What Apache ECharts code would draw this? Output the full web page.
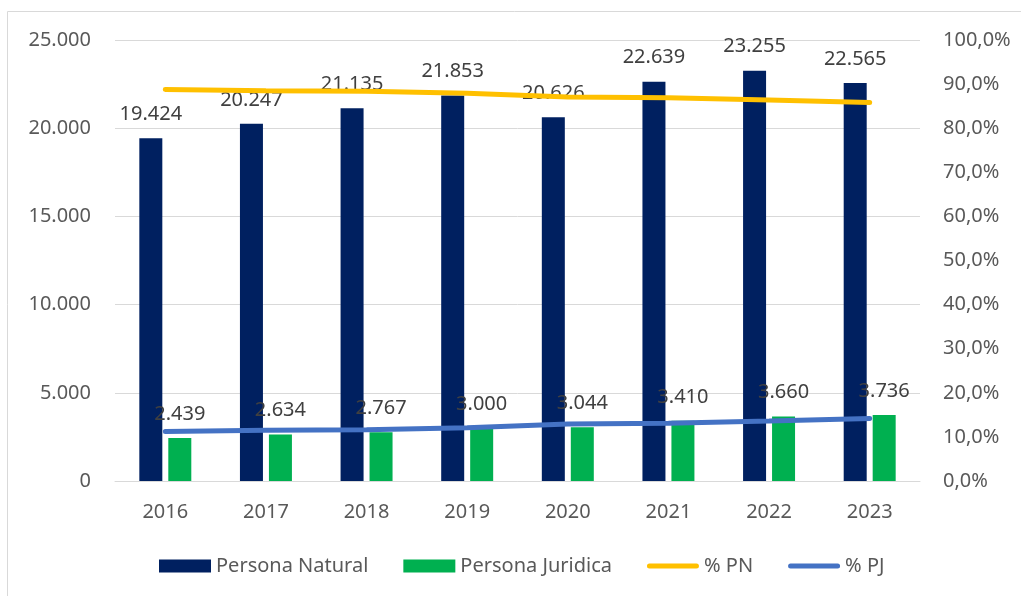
<!DOCTYPE html>
<html>
  <head>
    <meta charset="UTF-8" />
    <title>Persona Natural / Persona Juridica</title>
    <style>
      html, body { margin: 0; padding: 0; background: #fff; overflow: hidden; }
      #chart { width: 1021px; height: 596px; }
    </style>
    <script src="https://cdn.jsdelivr.net/npm/echarts@6/dist/echarts.min.js"></script>
  </head>
  <body>
    <div id="chart"></div>
    <script>
      var years = ["2016", "2017", "2018", "2019", "2020", "2021", "2022", "2023"];
      var personaNatural = [19424, 20247, 21135, 21853, 20626, 22639, 23255, 22565];
      var personaJuridica = [2439, 2634, 2767, 3000, 3044, 3410, 3660, 3736];
      var pctPN = [88.8, 88.5, 88.4, 87.9, 87.1, 86.9, 86.4, 85.8];
      var pctPJ = [11.2, 11.5, 11.6, 12.1, 12.9, 13.1, 13.6, 14.2];

      var font = "'Noto Sans', sans-serif";
      var textColor = "#595959";
      // rounded line used as legend icon for the two % series
      var lineIcon = "path://M2.5,0 L49.5,0 A2.5,2.5 0 0 1 49.5,5 L2.5,5 A2.5,2.5 0 0 1 2.5,0 Z";

      function miles(v) {
        return String(v).replace(/\B(?=(\d{3})+(?!\d))/g, ".");
      }

      var myChart = echarts.init(document.getElementById("chart"));

      var barLabel = {
        show: true,
        position: "top",
        distance: 14,
        color: "#404040",
        fontFamily: font,
        fontSize: 20,
        formatter: function (p) { return miles(p.value); }
      };

      var option = {
        animation: false,
        textStyle: { fontFamily: font },
        graphic: [
          {
            type: "rect",
            shape: { x: 7.5, y: 11.5, width: 1100, height: 700 },
            style: { fill: "none", stroke: "#d9d9d9", lineWidth: 1 },
            silent: true
          }
        ],
        grid: { left: 115, right: 101, top: 40, bottom: 115 },
        legend: {
          left: 154,
          top: 551,
          itemWidth: 52,
          itemHeight: 13,
          itemGap: 35,
          textStyle: { color: textColor, fontSize: 20, fontFamily: font },
          data: [
            { name: "Persona Natural", icon: "rect" },
            { name: "Persona Juridica", icon: "rect" },
            { name: "% PN", icon: lineIcon },
            { name: "% PJ", icon: lineIcon }
          ]
        },
        xAxis: {
          type: "category",
          data: years,
          axisLine: { lineStyle: { color: "#d9d9d9", width: 1 } },
          axisTick: { show: false },
          axisLabel: { color: textColor, fontSize: 20, margin: 21 }
        },
        yAxis: [
          {
            type: "value",
            min: 0,
            max: 25000,
            interval: 5000,
            axisLine: { show: false },
            axisTick: { show: false },
            splitLine: { lineStyle: { color: "#d9d9d9", width: 1 } },
            axisLabel: {
              color: textColor,
              fontSize: 20,
              margin: 24,
              formatter: function (v) { return miles(v); }
            }
          },
          {
            type: "value",
            min: 0,
            max: 100,
            interval: 10,
            axisLine: { show: false },
            axisTick: { show: false },
            splitLine: { show: false },
            axisLabel: {
              color: textColor,
              fontSize: 20,
              margin: 23,
              formatter: function (v) { return v.toFixed(1).replace(".", ",") + "%"; }
            }
          }
        ],
        series: [
          {
            name: "Persona Natural",
            type: "bar",
            data: personaNatural,
            barWidth: 23,
            barGap: "26%",
            itemStyle: { color: "#002060" },
            label: barLabel
          },
          {
            name: "Persona Juridica",
            type: "bar",
            data: personaJuridica,
            barWidth: 23,
            itemStyle: { color: "#00B050" },
            label: barLabel
          },
          {
            name: "% PN",
            type: "line",
            yAxisIndex: 1,
            data: pctPN,
            symbol: "none",
            itemStyle: { color: "#FFC000" },
            lineStyle: { color: "#FFC000", width: 5, cap: "round" },
            z: 3
          },
          {
            name: "% PJ",
            type: "line",
            yAxisIndex: 1,
            data: pctPJ,
            symbol: "none",
            itemStyle: { color: "#4472C4" },
            lineStyle: { color: "#4472C4", width: 5, cap: "round" },
            z: 3
          }
        ]
      };

      myChart.setOption(option);
    </script>
  </body>
</html>
